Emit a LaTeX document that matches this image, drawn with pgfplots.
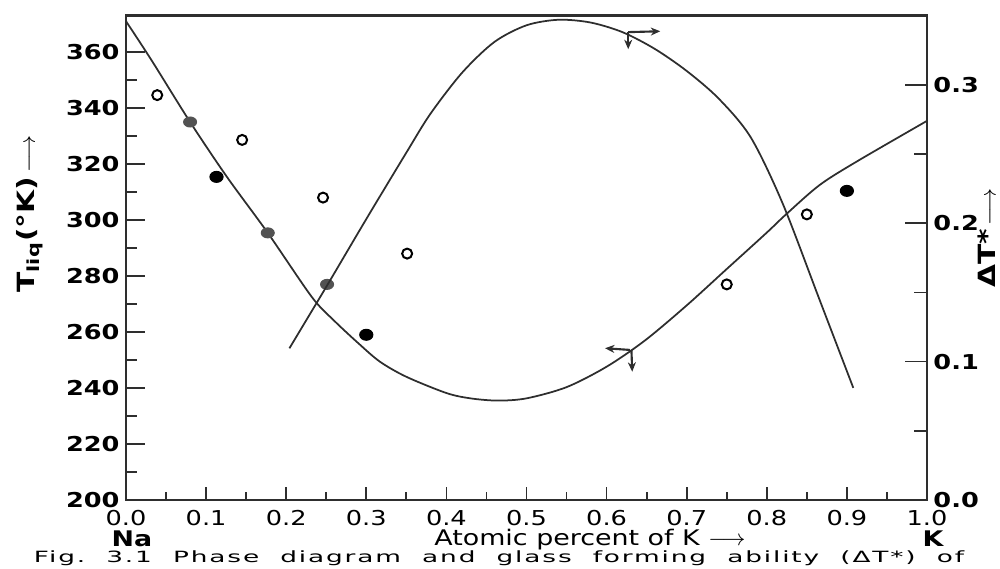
\documentclass[border=0pt]{standalone}
\usepackage{fontspec}
\setmainfont{DejaVu Sans}[FakeStretch=1.25]
\newfontfamily\capfont{DejaVu Sans}[FakeStretch=1.7, LetterSpace=12]
\usepackage{pgfplots}
\pgfplotsset{compat=1.18}
\usetikzlibrary{arrows.meta}
\definecolor{ink}{gray}{0.18}
\definecolor{dotgrey}{gray}{0.32}
\begin{document}
\begin{tikzpicture}
\pgfplotsset{
  common/.style={width=320.4pt, height=193.76pt, scale only axis, xmin=0, xmax=1,
    axis line style={line width=0.9pt, ink}, tick style={line width=0.7pt, ink},
    /pgf/number format/assume math mode=true, clip=false, tick align=inside},
}
% x ticks, frame, liquidus curve and points
\begin{axis}[common, name=ax, ymin=200, ymax=373, ytick=\empty,
  xtick={0,0.1,0.2,0.3,0.4,0.5,0.6,0.7,0.8,0.9,1.0},
  xticklabels={0.0,0.1,0.2,0.3,0.4,0.5,0.6,0.7,0.8,0.9,1.0},
  minor xtick={0.05,0.15,0.25,0.35,0.45,0.55,0.65,0.75,0.85,0.95},
  xtick pos=left, major tick length=5.3pt, minor tick length=3.3pt,
  xticklabel style={font=\fontsize{8.2}{8.2}\selectfont, inner sep=0pt, anchor=north, yshift=-4pt}]
\addplot[ink, line width=0.7pt, smooth, tension=0.5] coordinates {
 (0,371) (0.032,357) (0.08,335) (0.126,315.4) (0.177,295.4) (0.232,272.5) (0.26,264)
 (0.29,256) (0.317,249.4) (0.35,244) (0.40,238.2) (0.43,236.3) (0.464,235.5) (0.50,236.3)
 (0.55,240.3) (0.60,247.6) (0.648,257) (0.70,269.5) (0.75,282.5) (0.80,295.5)
 (0.824,302) (0.866,312.5) (0.913,321) (1.0,335.4)};
% open circles
\addplot[only marks, mark=o, mark size=2pt, mark options={line width=0.8pt, black}] coordinates {
 (0.039,344.6) (0.145,328.6) (0.246,308) (0.351,288) (0.75,277) (0.85,302)};
% black dots
\addplot[only marks, mark=*, mark size=2.2pt, mark options={xscale=1.2, black, fill=black}] coordinates {
 (0.113,315.4) (0.30,259) (0.90,310.4)};
% grey dots
\addplot[only marks, mark=*, mark size=2pt, mark options={xscale=1.3, dotgrey, fill=dotgrey}] coordinates {
 (0.08,335) (0.177,295.4) (0.251,277)};
% axis indicator arrows
\draw[line width=0.85pt, ink, -{Stealth[length=3.8pt,width=3.2pt]}] (axis cs:0.627,367.1) -- (axis cs:0.667,367.4);
\draw[line width=0.85pt, ink, -{Stealth[length=3.8pt,width=3.2pt]}] (axis cs:0.627,367.1) -- (axis cs:0.627,361.0);
\draw[line width=0.85pt, ink, -{Stealth[length=3.8pt,width=3.2pt]}] (axis cs:0.629,253.6) -- (axis cs:0.598,254.2);
\draw[line width=0.85pt, ink, -{Stealth[length=3.8pt,width=3.2pt]}] (axis cs:0.631,253.6) -- (axis cs:0.632,245.8);
\end{axis}
% left y ticks
\begin{axis}[common, ymin=200, ymax=373, xtick=\empty,
  ytick={200,220,240,260,280,300,320,340,360},
  minor ytick={210,230,250,270,290,310,330,350},
  ytick pos=left, major tick length=7.6pt, minor tick length=4.4pt,
  yticklabel style={font=\bfseries\fontsize{8.2}{8.2}\selectfont, inner sep=0pt, anchor=east, xshift=-2.4pt}]
\end{axis}
% right axis: glass forming ability
\begin{axis}[common, ymin=0, ymax=0.35, xtick=\empty,
  ytick={0,0.1,0.2,0.3}, yticklabels={0.0,0.1,0.2,0.3},
  minor ytick={0.05,0.15,0.25},
  ytick pos=right, major tick length=8.7pt, minor tick length=5.3pt,
  yticklabel style={font=\bfseries\fontsize{8.2}{8.2}\selectfont, inner sep=0pt, anchor=west, xshift=2.4pt}]
\addplot[ink, line width=0.7pt, smooth, tension=0.5] coordinates {
 (0.204,0.1096) (0.25,0.154) (0.30,0.203) (0.35,0.251) (0.38,0.279) (0.42,0.309)
 (0.46,0.331) (0.50,0.343) (0.54,0.347) (0.58,0.345) (0.62,0.338) (0.66,0.326)
 (0.70,0.310) (0.74,0.290) (0.78,0.262) (0.82,0.214) (0.866,0.1445) (0.908,0.081)};
\end{axis}
% labels
\node[font=\fontsize{8.6}{8.6}\selectfont, inner sep=0pt] at ([shift={(185.6pt,-16pt)}]ax.south west) {Atomic percent of K $\longrightarrow$};
\node[font=\bfseries\fontsize{8.6}{8.6}\selectfont, inner sep=0pt] at ([shift={(2.4pt,-15.6pt)}]ax.south west) {Na};
\node[font=\bfseries\fontsize{8.6}{8.6}\selectfont, inner sep=0pt] at ([shift={(322.8pt,-15.6pt)}]ax.south west) {K};
\node[font=\bfseries\fontsize{9.5}{9.5}\selectfont, inner sep=0pt, rotate=90] at ([shift={(-38.4pt,114.4pt)}]ax.south west) {T\textsubscript{liq}(°K)\,$\longrightarrow$};
\node[font=\bfseries\fontsize{9.5}{9.5}\selectfont, inner sep=0pt, rotate=90] at ([shift={(344.3pt,104.8pt)}]ax.south west) {ΔT*\,$\longrightarrow$};
\node[font=\capfont\fontsize{6.2}{6.2}\selectfont, inner sep=0pt, anchor=south west] at ([shift={(-37pt,-27.2pt)}]ax.south west) {\frenchspacing\makebox[372pt][s]{\strut Fig. 3.1 Phase diagram and glass forming ability (ΔT*) of}};
\pgfresetboundingbox
\path ([shift={(-50.4pt,-27.6pt)}]ax.south west) rectangle ([shift={(29.2pt,6.24pt)}]ax.north east);
\end{tikzpicture}
\end{document}
